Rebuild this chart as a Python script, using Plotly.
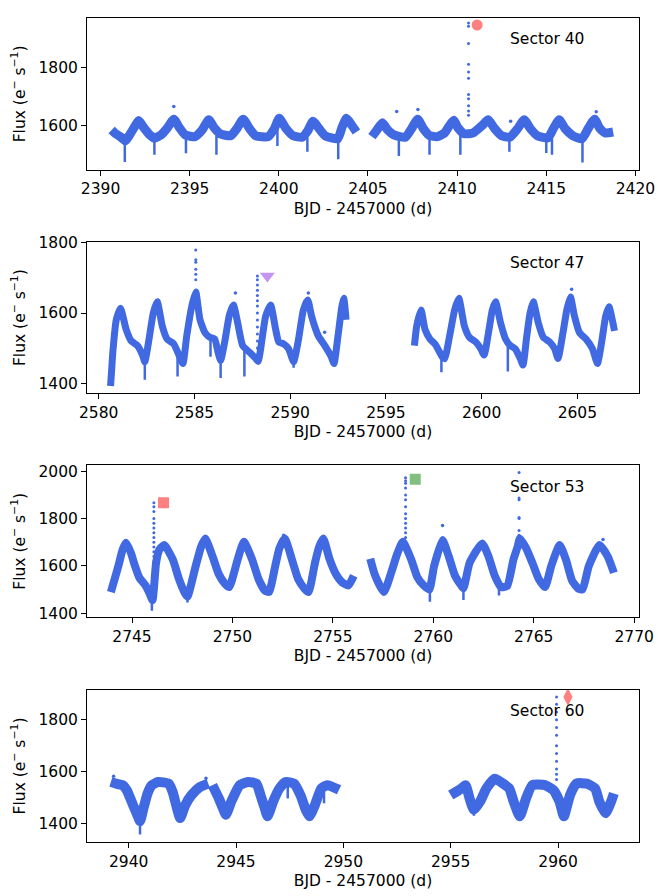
import plotly.graph_objects as go

# ---------------- Sector 40 ----------------
s40_t_a = [2390.62, 2390.85, 2391.15, 2391.40, 2391.70, 2391.95, 2392.14, 2392.40, 2392.70, 2393.00,
           2393.40, 2393.75, 2394.11, 2394.40, 2394.75, 2395.30, 2395.70, 2396.07, 2396.40, 2396.70,
           2397.30, 2397.65, 2398.00, 2398.35, 2398.70, 2399.40, 2399.75, 2400.02, 2400.40, 2400.80,
           2401.30, 2401.60, 2401.92, 2402.25, 2402.60, 2403.30, 2403.55, 2403.79, 2404.05, 2404.35]
s40_f_a = [1585, 1572, 1560, 1548, 1575, 1600, 1617, 1595, 1572, 1557,
           1568, 1592, 1622, 1595, 1568, 1562, 1585, 1620, 1590, 1572,
           1565, 1590, 1622, 1590, 1565, 1562, 1590, 1625, 1590, 1565,
           1560, 1580, 1615, 1590, 1565, 1555, 1595, 1625, 1605, 1578]
s40_t_b = [2405.22, 2405.50, 2405.81, 2406.10, 2406.45, 2407.10, 2407.45, 2407.79, 2408.10, 2408.45,
           2408.90, 2409.30, 2409.55, 2409.81, 2410.05, 2410.40, 2410.90, 2411.40, 2411.74, 2412.10,
           2412.50, 2412.95, 2413.40, 2413.76, 2414.10, 2414.50, 2415.10, 2415.40, 2415.72, 2416.05,
           2416.50, 2417.00, 2417.35, 2417.71, 2418.00, 2418.30, 2418.75]
s40_f_b = [1562, 1585, 1610, 1585, 1568, 1560, 1590, 1622, 1590, 1566,
           1562, 1575, 1598, 1618, 1592, 1572, 1575, 1600, 1620, 1590,
           1565, 1560, 1590, 1620, 1590, 1565, 1558, 1590, 1620, 1590,
           1565, 1555, 1590, 1622, 1590, 1575, 1578]
s40_dip_t = [2391.36, 2393.02, 2394.79, 2396.50, 2399.92, 2401.60, 2403.33, 2406.73, 2408.45, 2410.18,
             2412.93, 2415.00, 2415.32, 2417.03]
s40_dip_top = [1550, 1555, 1560, 1565, 1590, 1560, 1550, 1560, 1560, 1570, 1555, 1555, 1555, 1550]
s40_dip_min = [1475, 1500, 1505, 1500, 1530, 1510, 1485, 1496, 1500, 1500, 1510, 1506, 1500, 1474]
s40_flare_t = [2410.64] * 11
s40_flare_f = [1951, 1940, 1881, 1810, 1783, 1762, 1706, 1692, 1668, 1650, 1635]
s40_out_t = [2394.11, 2407.80, 2406.61, 2413.00, 2417.80]
s40_out_f = [1665, 1655, 1648, 1615, 1647]
s40_mark_t, s40_mark_f = [2411.12], [1944]

# ---------------- Sector 47 ----------------
s47_t_a = [2580.62, 2580.68, 2580.74, 2580.92, 2581.14, 2581.43, 2581.69, 2582.03, 2582.29, 2582.41,
           2582.63, 2582.85, 2583.06, 2583.32, 2583.57, 2583.92, 2584.23, 2584.40, 2584.60, 2584.86,
           2585.07, 2585.29, 2585.55, 2585.80, 2586.06, 2586.23, 2586.37, 2586.58, 2586.83, 2587.04,
           2587.26, 2587.52, 2587.86, 2588.21, 2588.33, 2588.46, 2588.72, 2588.98, 2589.24, 2589.41,
           2589.66, 2589.92, 2590.18, 2590.44, 2590.69, 2590.92, 2591.12, 2591.47, 2591.81, 2592.15,
           2592.29, 2592.50, 2592.70, 2592.80, 2592.92]
s47_f_a = [1392, 1440, 1489, 1581, 1614, 1554, 1521, 1507, 1480, 1461,
           1526, 1600, 1632, 1563, 1526, 1512, 1475, 1456, 1535, 1619,
           1660, 1581, 1544, 1531, 1526, 1489, 1465, 1517, 1595, 1623,
           1572, 1507, 1489, 1470, 1462, 1498, 1591, 1623, 1554, 1517,
           1512, 1498, 1461, 1526, 1609, 1637, 1591, 1535, 1507, 1475,
           1456, 1535, 1618, 1642, 1581]
s47_t_b = [2596.49, 2596.61, 2596.84, 2597.04, 2597.30, 2597.56, 2597.76, 2597.94, 2598.07, 2598.33,
           2598.59, 2598.81, 2599.10, 2599.36, 2599.70, 2599.96, 2600.13, 2600.39, 2600.56, 2600.73,
           2600.99, 2601.25, 2601.50, 2601.76, 2602.02, 2602.16, 2602.36, 2602.53, 2602.70, 2602.96,
           2603.22, 2603.56, 2603.82, 2603.99, 2604.25, 2604.45, 2604.64, 2604.85, 2605.11, 2605.45,
           2605.79, 2606.05, 2606.27, 2606.48, 2606.65, 2606.94]
s47_f_b = [1507, 1563, 1609, 1554, 1526, 1512, 1493, 1475, 1470, 1535,
           1609, 1642, 1563, 1531, 1517, 1498, 1480, 1554, 1609, 1632,
           1572, 1526, 1507, 1498, 1470, 1452, 1535, 1600, 1632, 1572,
           1531, 1517, 1498, 1470, 1544, 1609, 1646, 1591, 1544, 1526,
           1498, 1456, 1517, 1591, 1618, 1549]
s47_dip_t = [2582.41, 2584.12, 2585.84, 2586.37, 2587.61, 2590.18, 2597.90, 2601.37]
s47_dip_top = [1461, 1480, 1530, 1470, 1500, 1461, 1475, 1505]
s47_dip_min = [1410, 1419, 1475, 1415, 1419, 1444, 1431, 1433]
s47_flare_t = [2585.07] * 6 + [2588.29] * 13
s47_flare_f = [1780, 1752, 1745, 1725, 1711, 1695,
               1706, 1695, 1680, 1665, 1650, 1635, 1620, 1600, 1580, 1560, 1540, 1520, 1500]
s47_out_t = [2587.14, 2590.95, 2591.80, 2604.70]
s47_out_f = [1657, 1657, 1545, 1668]
s47_mark_t, s47_mark_f = [2588.81], [1706]

# ---------------- Sector 53 ----------------
s53_t_a = [2743.95, 2744.32, 2744.53, 2744.70, 2744.95, 2745.15, 2745.36, 2745.67, 2745.88, 2746.02,
           2746.20, 2746.36, 2746.61, 2747.03, 2747.34, 2747.65, 2747.76, 2748.17, 2748.44, 2748.65,
           2749.01, 2749.32, 2749.63, 2749.84, 2750.26, 2750.57, 2750.98, 2751.30, 2751.61, 2751.82,
           2752.13, 2752.34, 2752.61, 2752.96, 2753.27, 2753.59, 2753.79, 2754.11, 2754.32, 2754.52,
           2754.84, 2755.15, 2755.46, 2755.77, 2756.04]
s53_f_a = [1489, 1599, 1668, 1698, 1654, 1599, 1551, 1517, 1482, 1455,
           1613, 1668, 1688, 1627, 1544, 1482, 1470, 1599, 1681, 1716,
           1640, 1565, 1524, 1510, 1627, 1702, 1627, 1544, 1496, 1489,
           1599, 1675, 1716, 1627, 1544, 1503, 1489, 1613, 1681, 1716,
           1627, 1565, 1530, 1517, 1558]
s53_t_b = [2756.86, 2757.10, 2757.54, 2757.90, 2758.20, 2758.48, 2758.90, 2759.21, 2759.52, 2759.80,
           2760.04, 2760.46, 2760.77, 2761.08, 2761.39, 2761.50, 2761.81, 2762.43, 2762.75, 2763.06,
           2763.37, 2763.68, 2763.99, 2764.20, 2764.31, 2764.62, 2764.93, 2765.25, 2765.56, 2765.87,
           2766.29, 2766.60, 2766.91, 2767.23, 2767.43, 2767.74, 2768.27, 2768.68, 2768.99]
s53_f_b = [1630, 1560, 1489, 1570, 1650, 1702, 1627, 1551, 1517, 1500,
           1599, 1709, 1640, 1558, 1517, 1505, 1613, 1695, 1640, 1558,
           1510, 1515, 1627, 1681, 1716, 1675, 1613, 1544, 1510, 1599,
           1688, 1627, 1537, 1503, 1500, 1599, 1688, 1640, 1571]
s53_dip_t = [2745.99, 2747.76, 2759.83, 2761.50, 2763.27]
s53_dip_top = [1470, 1475, 1500, 1505, 1510]
s53_dip_min = [1410, 1445, 1448, 1455, 1475]
s53_flare_t = [2746.09] * 14 + [2758.62] * 13 + [2764.27] * 7
s53_flare_f = [1867, 1850, 1830, 1800, 1780, 1760, 1740, 1720, 1700, 1680, 1660, 1640, 1620, 1600,
               1973, 1960, 1950, 1930, 1900, 1880, 1850, 1820, 1800, 1780, 1760, 1740, 1720,
               1995, 1887, 1880, 1805, 1800, 1750, 1730]
s53_out_t = [2760.46, 2768.45, 2752.55]
s53_out_f = [1771, 1712, 1730]
s53_mark_t = [2746.57, 2759.10]
s53_mark_f = [1867, 1967]

# ---------------- Sector 60 ----------------
s60_t_a = [2939.17, 2939.50, 2939.72, 2939.91, 2940.20, 2940.40, 2940.53, 2940.69, 2940.88, 2941.08,
           2941.37, 2941.86, 2942.05, 2942.25, 2942.40, 2942.64, 2942.93, 2943.32, 2943.71]
s60_f_a = [1560, 1552, 1548, 1529, 1472, 1434, 1409, 1459, 1516, 1548,
           1560, 1554, 1522, 1459, 1421, 1472, 1510, 1541, 1554]
s60_t_b = [2943.90, 2944.20, 2944.39, 2944.53, 2944.78, 2945.17, 2945.56, 2945.95, 2946.14, 2946.34,
           2946.47, 2946.73, 2947.02, 2947.31, 2947.70, 2948.00, 2948.25, 2948.42, 2948.68, 2948.97,
           2949.26, 2949.80]
s60_f_b = [1548, 1497, 1459, 1434, 1485, 1548, 1560, 1554, 1510, 1459,
           1428, 1485, 1535, 1560, 1554, 1510, 1453, 1428, 1472, 1535,
           1548, 1530]
s60_t_c = [2955.00, 2955.49, 2955.69, 2955.88, 2956.08, 2956.37, 2956.66, 2957.05, 2957.44, 2957.73,
           2957.93, 2958.22, 2958.51, 2958.80, 2959.39, 2959.78, 2960.07, 2960.27, 2960.56, 2960.85,
           2961.34, 2961.73, 2961.92, 2962.21, 2962.47, 2962.60]
s60_f_c = [1510, 1535, 1548, 1497, 1453, 1485, 1535, 1573, 1554, 1535,
           1485, 1428, 1497, 1548, 1548, 1529, 1485, 1428, 1510, 1554,
           1554, 1535, 1485, 1440, 1485, 1516]
s60_dip_t = [2940.53, 2956.08, 2947.41, 2949.10]
s60_dip_top = [1409, 1453, 1550, 1535]
s60_dip_min = [1358, 1430, 1497, 1478]
s60_flare_t = [2959.93] * 12
s60_flare_f = [1888, 1860, 1830, 1800, 1770, 1740, 1700, 1670, 1640, 1610, 1590, 1570]
s60_out_t = [2939.30, 2943.60]
s60_out_f = [1582, 1575]
s60_mark_t, s60_mark_f = [2960.46], [1888]

# ---------------- figure ----------------
BLUE = "#4169E1"
FONT = "DejaVu Sans"
FS = 15.5


def join(*segs):
    xs, ys = [], []
    for t, f in segs:
        if xs:
            xs.append(None)
            ys.append(None)
        xs += list(t)
        ys += list(f)
    return xs, ys


def dips(t, top, mn):
    xs, ys = [], []
    for a, b, c in zip(t, top, mn):
        xs += [a, a, None]
        ys += [b, c, None]
    return xs, ys


panels = [
    dict(segs=[(s40_t_a, s40_f_a), (s40_t_b, s40_f_b)], dip=(s40_dip_t, s40_dip_top, s40_dip_min),
         flare=(s40_flare_t, s40_flare_f), out=(s40_out_t, s40_out_f),
         marks=[(s40_mark_t, s40_mark_f, "circle", "#FF8080", 11)],
         xr=[2389.24, 2420.2], yr=[1449, 1968], yt=[1600, 1800], xt=[2390, 2395, 2400, 2405, 2410, 2415, 2420],
         dom=[0.8159, 1.0], label="Sector 40", lw=9),
    dict(segs=[(s47_t_a, s47_f_a), (s47_t_b, s47_f_b)], dip=(s47_dip_t, s47_dip_top, s47_dip_min),
         flare=(s47_flare_t, s47_flare_f), out=(s47_out_t, s47_out_f),
         marks=[(s47_mark_t, s47_mark_f, "triangle-down", "#C495F0", 13)],
         xr=[2579.39, 2608.22], yr=[1371, 1803], yt=[1400, 1600, 1800], xt=[2580, 2585, 2590, 2595, 2600, 2605],
         dom=[0.5445, 0.7283], label="Sector 47", lw=7),
    dict(segs=[(s53_t_a, s53_f_a), (s53_t_b, s53_f_b)], dip=(s53_dip_t, s53_dip_top, s53_dip_min),
         flare=(s53_flare_t, s53_flare_f), out=(s53_out_t, s53_out_f),
         marks=[([s53_mark_t[0]], [s53_mark_f[0]], "square", "#FF8080", 11),
                ([s53_mark_t[1]], [s53_mark_f[1]], "square", "#80BF80", 11)],
         xr=[2742.76, 2770.24], yr=[1383, 2025], yt=[1400, 1600, 1800, 2000], xt=[2745, 2750, 2755, 2760, 2765, 2770],
         dom=[0.2729, 0.4570], label="Sector 53", lw=8),
    dict(segs=[(s60_t_a, s60_f_a), (s60_t_b, s60_f_b), (s60_t_c, s60_f_c)], dip=(s60_dip_t, s60_dip_top, s60_dip_min),
         flare=(s60_flare_t, s60_flare_f), out=(s60_out_t, s60_out_f),
         marks=[(s60_mark_t, s60_mark_f, "diamond-tall", "#FF8080", 13)],
         xr=[2938.06, 2963.77], yr=[1329, 1915], yt=[1400, 1600, 1800], xt=[2940, 2945, 2950, 2955, 2960],
         dom=[0.0, 0.1846], label="Sector 60", lw=10),
]

fig = go.Figure()
layout = dict(
    width=665, height=896,
    margin=dict(l=87, r=18, t=10, b=48),
    paper_bgcolor="white", plot_bgcolor="white",
    showlegend=False,
    font=dict(family=FONT, size=FS, color="black"),
    annotations=[],
)

for i, p in enumerate(panels, start=1):
    xa = "x" if i == 1 else f"x{i}"
    ya = "y" if i == 1 else f"y{i}"
    lx, ly = join(*p["segs"])
    fig.add_trace(go.Scatter(x=lx, y=ly, mode="lines", xaxis=xa, yaxis=ya,
                             line=dict(color=BLUE, width=p["lw"], shape="spline", smoothing=0.5),
                             hoverinfo="skip"))
    dx, dy = dips(*p["dip"])
    fig.add_trace(go.Scatter(x=dx, y=dy, mode="lines", xaxis=xa, yaxis=ya,
                             line=dict(color=BLUE, width=2.5), hoverinfo="skip"))
    fig.add_trace(go.Scatter(x=p["flare"][0], y=p["flare"][1], mode="markers", xaxis=xa, yaxis=ya,
                             marker=dict(color=BLUE, size=3), hoverinfo="skip"))
    fig.add_trace(go.Scatter(x=p["out"][0], y=p["out"][1], mode="markers", xaxis=xa, yaxis=ya,
                             marker=dict(color=BLUE, size=3.5), hoverinfo="skip"))
    for mt, mf, sym, col, sz in p["marks"]:
        fig.add_trace(go.Scatter(x=mt, y=mf, mode="markers", xaxis=xa, yaxis=ya,
                                 marker=dict(symbol=sym, color=col, size=sz, line=dict(width=0)),
                                 hoverinfo="skip"))
    axis_common = dict(showline=True, linecolor="black", linewidth=1, mirror=True,
                       ticks="outside", ticklen=5, tickwidth=1, tickcolor="black",
                       showgrid=False, zeroline=False, tickfont=dict(size=FS, color="black"))
    layout["xaxis" if i == 1 else f"xaxis{i}"] = dict(
        domain=[0, 1], anchor=ya, range=p["xr"], tickvals=p["xt"],
        title=dict(text="BJD - 2457000 (d)", standoff=5, font=dict(size=FS)), **axis_common)
    layout["yaxis" if i == 1 else f"yaxis{i}"] = dict(
        domain=p["dom"], anchor=xa, range=p["yr"], tickvals=p["yt"],
        title=dict(text="Flux (e<sup>\u2212</sup> s<sup>\u22121</sup>)", standoff=9, font=dict(size=FS)),
        **axis_common)
    layout["annotations"].append(dict(
        text=p["label"], xref=f"{xa} domain", yref=f"{ya} domain", x=0.762, y=0.86,
        xanchor="left", yanchor="middle", showarrow=False, font=dict(size=FS, color="black")))

fig.update_layout(**layout)
fig.write_html("out.html")
